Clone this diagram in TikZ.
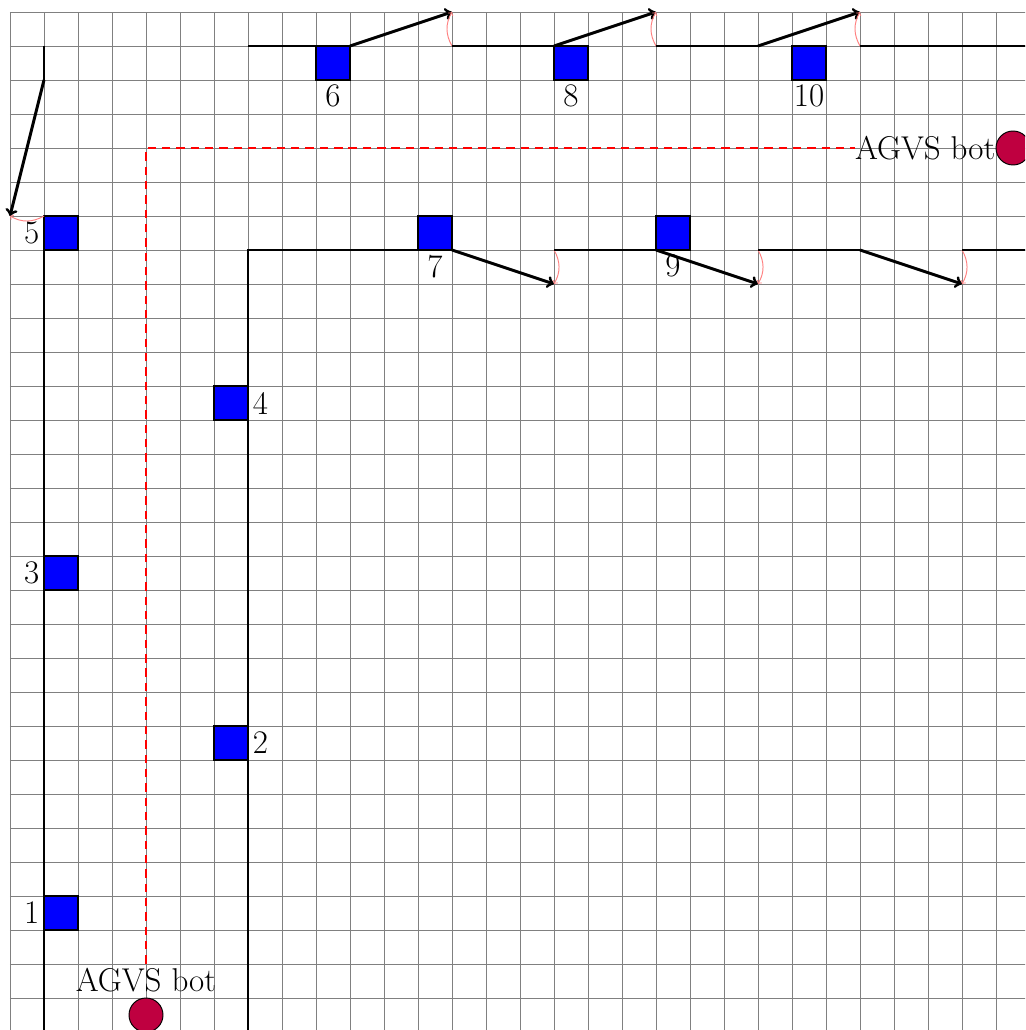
\documentclass[tikz,border=0pt]{standalone}
\begin{document}
\begin{tikzpicture}[x=1cm,y=1cm,
  font=\fontsize{27.6}{32}\selectfont,
  track/.style={line width=2.5pt},
  jump/.style={line width=2.5pt,->},
  turn/.style={red!50,line width=0.8pt,->,bend left=30},
  box/.style={draw=black,fill=blue,line width=0.9pt,minimum size=1cm,inner sep=0pt},
  side/.style={label distance=3.5pt},
  bot/.style={circle,draw=black,fill=purple,line width=0.8pt,minimum size=1cm,inner sep=0pt},
  botlab/.style={inner sep=4pt}]
\useasboundingbox (-0.2941,0.3529) rectangle (29.853,-29.941);
\clip (-0.2941,0.3529) rectangle (29.853,-29.941);
\draw[gray,line width=0.6pt] (0,0) grid (31,-31);

% boxes
\node[box,side,label=left:5] (b5) at (1.5,-6.5) {};
\node[box,side,label=left:3] (b3) at (1.5,-16.5) {};
\node[box,side,label=left:1] (b1) at (1.5,-26.5) {};
\node[box,side,label=right:4] (b4) at (6.5,-11.5) {};
\node[box,side,label=right:2] (b2) at (6.5,-21.5) {};
\node[box,label=below:6] (b6) at (9.5,-1.5) {};
\node[box,label=below:8] (b8) at (16.5,-1.5) {};
\node[box,label=below:10] (b10) at (23.5,-1.5) {};
\node[box,label=below:7] (b7) at (12.5,-6.5) {};
\node[box,label=below:9] (b9) at (19.5,-6.5) {};

% bots
\node[bot,label={[botlab,name=l1]above:AGVS bot}] (bot1) at (4,-29.5) {};
\node[bot,label={[inner xsep=0pt,inner ysep=4pt,name=l2]left:AGVS bot}] (bot2) at (29.5,-4) {};
\draw[red,line width=0.9pt,dash pattern=on 7pt off 5pt] (l1.north) |- (l2.west);

% left track
\coordinate (L0) at (1,-1);
\coordinate (L1) at (1,-2);
\coordinate (L2) at (0,-6);
\coordinate (L3) at (1,-6);
\coordinate (L4) at (1,-7);
\coordinate (L5) at (1,-31);
\draw[track] (L0) -- (L1);
\draw[jump] (L1) -- (L2);
\draw[turn] (L3) to (L2);
\draw[track] (L4) -- (L5);

% middle track
\coordinate (M0) at (7,-31);
\coordinate (M1) at (7,-7);
\coordinate (M2) at (13,-7);
\coordinate (M3) at (16,-8);
\coordinate (M4) at (16,-7);
\coordinate (M5) at (19,-7);
\coordinate (M6) at (22,-8);
\coordinate (M7) at (22,-7);
\coordinate (M8) at (25,-7);
\coordinate (M9) at (28,-8);
\coordinate (M10) at (28,-7);
\coordinate (M11) at (31,-7);
\draw[track] (M0) -- (M1) -- (M2);
\draw[jump] (M2) -- (M3);
\draw[turn] (M4) to (M3);
\draw[track] (M4) -- (M5);
\draw[jump] (M5) -- (M6);
\draw[turn] (M7) to (M6);
\draw[track] (M7) -- (M8);
\draw[jump] (M8) -- (M9);
\draw[turn] (M10) to (M9);
\draw[track] (M10) -- (M11);

% top track
\coordinate (T0) at (7,-1);
\coordinate (T1) at (10,-1);
\coordinate (T2) at (13,0);
\coordinate (T3) at (13,-1);
\coordinate (T4) at (16,-1);
\coordinate (T5) at (19,0);
\coordinate (T6) at (19,-1);
\coordinate (T7) at (22,-1);
\coordinate (T8) at (25,0);
\coordinate (T9) at (25,-1);
\coordinate (T10) at (31,-1);
\draw[track] (T0) -- (T1);
\draw[jump] (T1) -- (T2);
\draw[turn] (T3) to (T2);
\draw[track] (T3) -- (T4);
\draw[jump] (T4) -- (T5);
\draw[turn] (T6) to (T5);
\draw[track] (T6) -- (T7);
\draw[jump] (T7) -- (T8);
\draw[turn] (T9) to (T8);
\draw[track] (T9) -- (T10);
\end{tikzpicture}
\end{document}
